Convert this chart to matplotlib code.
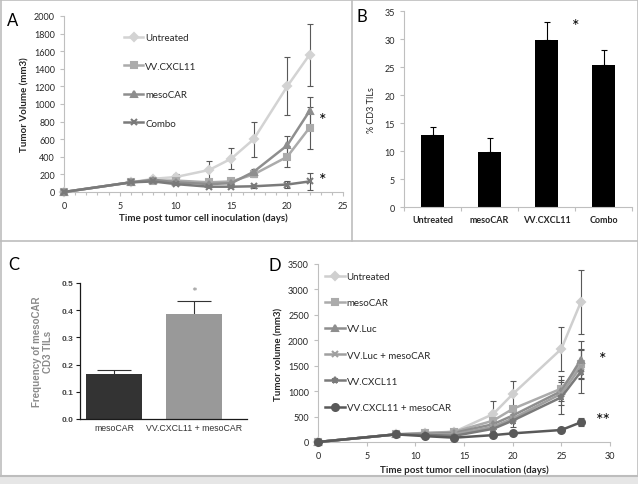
import matplotlib
matplotlib.use("Agg")
import matplotlib.pyplot as plt
from matplotlib.lines import Line2D
from matplotlib.ticker import MultipleLocator

W, H = 638, 485
plt.rcParams['font.family'] = ['Lato', 'DejaVu Sans']

# ---------------- Data ----------------
# Panel A
a_days = [0, 6, 8, 10, 13, 15, 17, 20, 22]
a_untreated = [0, 110, 150, 170, 250, 380, 600, 1200, 1560]
a_untreated_err = [0, 0, 0, 30, 100, 120, 200, 330, 350]
a_cxcl11 = [0, 110, 130, 130, 110, 120, 200, 400, 730]
a_cxcl11_err = [0, 0, 0, 0, 0, 0, 30, 120, 240]
a_mesocar = [0, 110, 140, 110, 90, 100, 230, 530, 920]
a_mesocar_err = [0, 0, 0, 0, 0, 0, 30, 110, 160]
a_combo = [0, 110, 120, 90, 60, 60, 65, 85, 120]
a_combo_err = [0, 0, 0, 0, 0, 0, 15, 45, 100]

# Panel B
b_groups = ["Untreated", "mesoCAR", "VV.CXCL11", "Combo"]
b_values = [12.8, 9.9, 29.8, 25.3]
b_err = [1.4, 2.4, 3.2, 2.8]

# Panel C
c_groups = ["mesoCAR", "VV.CXCL11 + mesoCAR"]
c_values = [0.167, 0.385]
c_err = [0.013, 0.047]

# Panel D
d_days = [0, 8, 11, 14, 18, 20, 25, 27]
d_untreated = [0, 150, 170, 200, 550, 940, 1830, 2750]
d_untreated_err = [0, 0, 0, 0, 250, 250, 440, 630]
d_mesocar = [0, 150, 180, 200, 420, 650, 1050, 1530]
d_mesocar_err = [0, 0, 0, 0, 0, 0, 250, 300]
d_vvluc = [0, 150, 160, 180, 350, 520, 1000, 1620]
d_vvluc_err = [0, 0, 0, 0, 0, 0, 0, 370]
d_vvluc_meso = [0, 150, 150, 150, 300, 460, 950, 1480]
d_vvluc_meso_err = [0, 0, 0, 0, 0, 0, 220, 0]
d_cxcl11 = [0, 150, 140, 120, 260, 420, 880, 1380]
d_cxcl11_err = [0, 0, 0, 0, 0, 130, 330, 420]
d_cxcl11_meso = [0, 150, 115, 85, 135, 170, 236, 387]
d_cxcl11_meso_err = [0, 0, 0, 0, 0, 0, 30, 80]

# ---------------- Figure ----------------
fig = plt.figure(figsize=(W / 100, H / 100), dpi=100)


def rect(l, t, r, b):
    return [l / W, 1 - b / H, (r - l) / W, (b - t) / H]


AXC = '#BFBFBF'
TXT = '#262626'


def excel_axes(ax):
    for s in ['top', 'right']:
        ax.spines[s].set_visible(False)
    for s in ['left', 'bottom']:
        ax.spines[s].set_color(AXC)
        ax.spines[s].set_linewidth(0.8)
    ax.tick_params(colors=AXC, labelcolor=TXT, labelsize=6.5, width=0.8, length=3)
    ax.tick_params(which='minor', colors=AXC, width=0.8, length=2)


def draw_series(ax, x, series):
    for name, vals, err, col, mk, ms in series:
        ax.errorbar(x, vals, yerr=err, fmt='none', ecolor='#595959', elinewidth=0.8,
                    capsize=2.5, capthick=0.8, zorder=2, clip_on=False)
        ax.plot(x, vals, color=col, lw=1.8, marker=mk, ms=ms, mew=1.5, label=name,
                clip_on=False, zorder=3)


# ---------- Panel A ----------
axA = fig.add_axes(rect(64, 17, 343, 193))
excel_axes(axA)
seriesA = [
    ("Untreated", a_untreated, a_untreated_err, '#D3D3D3', 'D', 4),
    ("VV.CXCL11", a_cxcl11, a_cxcl11_err, '#ABABAB', 's', 5),
    ("mesoCAR", a_mesocar, a_mesocar_err, '#8E8E8E', '^', 5),
    ("Combo", a_combo, a_combo_err, '#7A7A7A', 'x', 5),
]
draw_series(axA, a_days, seriesA)
axA.set_xlim(0, 25)
axA.set_ylim(0, 2000)
axA.xaxis.set_major_locator(MultipleLocator(5))
axA.xaxis.set_minor_locator(MultipleLocator(1))
axA.yaxis.set_major_locator(MultipleLocator(200))
axA.set_ylabel("Tumor Volume (mm3)", fontsize=7, fontweight='bold', color=TXT, labelpad=3)
axA.set_xlabel("Time post tumor cell inoculation (days)", fontsize=7, fontweight='bold',
               color=TXT, labelpad=2)
legA = axA.legend(loc='upper left', bbox_to_anchor=(0.215, 0.902), frameon=False,
                  fontsize=7, labelspacing=2.0, handlelength=2.0, handletextpad=0.2,
                  borderaxespad=0, borderpad=0)
for t in legA.get_texts():
    t.set_color(TXT)
fig.text(323 / W, 1 - 121 / H, "*", fontsize=13, ha='center', va='center', color='black')
fig.text(323 / W, 1 - 181 / H, "*", fontsize=13, ha='center', va='center', color='black')

# ---------- Panel B ----------
axB = fig.add_axes(rect(404, 12, 632, 208))
excel_axes(axB)
xb = list(range(len(b_groups)))
axB.bar(xb, b_values, width=0.4, color='black', zorder=2)
axB.errorbar(xb, b_values, yerr=[[0] * len(b_err), b_err], fmt='none', ecolor='black',
             elinewidth=0.8, capsize=2.5, capthick=0.8)
axB.set_xlim(-0.5, 3.5)
axB.set_ylim(0, 35)
axB.yaxis.set_major_locator(MultipleLocator(5))
axB.set_xticks([i + 0.5 for i in range(-1, 4)])
axB.set_xticklabels([])
axB.set_xticks(xb, minor=True)
axB.set_xticklabels(b_groups, minor=True, fontsize=6.5, fontweight='bold', color=TXT)
axB.tick_params(axis='x', which='minor', length=0, pad=6)
axB.set_ylabel("% CD3 TILs", fontsize=6.5, color=TXT, labelpad=6)
fig.text(576 / W, 1 - 27 / H, "*", fontsize=13, ha='center', va='center', color='black')

# ---------- Panel C ----------
axC = fig.add_axes(rect(80, 284, 247, 420))
for s in ['top', 'right']:
    axC.spines[s].set_visible(False)
for s in ['left', 'bottom']:
    axC.spines[s].set_color('#1a1a1a')
    axC.spines[s].set_linewidth(0.9)
xc = list(range(len(c_groups)))
axC.bar(xc, c_values, width=0.7, color=['#333333', '#999999'], zorder=2)
axC.errorbar(xc, c_values, yerr=c_err, fmt='none', ecolor='#333333', elinewidth=0.8,
             capsize=12, capthick=0.8, zorder=1)
axC.set_xlim(-0.425, 1.66)
axC.set_ylim(0, 0.5)
axC.set_yticks([0.0, 0.1, 0.2, 0.3, 0.4, 0.5])
axC.set_yticklabels(["0.0", "0.1", "0.2", "0.3", "0.4", "0.5"], fontsize=6,
                    fontweight='bold', color='#444444', family='Liberation Sans')
axC.set_xticks(xc)
axC.set_xticklabels(c_groups, fontsize=6.3, color='#333333', family='Liberation Sans')
axC.tick_params(axis='x', length=0, pad=3)
axC.tick_params(axis='y', length=3, width=0.8, color='#1a1a1a', pad=2)
axC.set_ylabel("Frequency of mesoCAR\nCD3 TILs", fontsize=7, fontweight='bold',
               color='#8a8a8a', family='Liberation Sans', labelpad=6, linespacing=1.1)
fig.text(194 / W, 1 - 293 / H, "*", fontsize=10, ha='center', va='center', color='#8a8a8a')

# ---------- Panel D ----------
axD = fig.add_axes(rect(318, 265, 610, 443))
excel_axes(axD)
seriesD = [
    ("Untreated", d_untreated, d_untreated_err, '#CFCFCF', 'D', 4),
    ("mesoCAR", d_mesocar, d_mesocar_err, '#ABABAB', 's', 5),
    ("VV.Luc", d_vvluc, d_vvluc_err, '#8E8E8E', '^', 5),
    ("VV.Luc + mesoCAR", d_vvluc_meso, d_vvluc_meso_err, '#A0A0A0', 'x', 5),
    ("VV.CXCL11", d_cxcl11, d_cxcl11_err, '#7A7A7A', '*', 5),
    ("VV.CXCL11 + mesoCAR", d_cxcl11_meso, d_cxcl11_meso_err, '#595959', 'o', 5),
]
draw_series(axD, d_days, seriesD)
axD.set_xlim(0, 30)
axD.set_ylim(0, 3500)
axD.xaxis.set_major_locator(MultipleLocator(5))
axD.yaxis.set_major_locator(MultipleLocator(500))
axD.set_ylabel("Tumor volume (mm3)", fontsize=7, fontweight='bold', color=TXT, labelpad=3)
axD.set_xlabel("Time post tumor cell inoculation (days)", fontsize=7, fontweight='bold',
               color=TXT, labelpad=3)
legD = axD.legend(loc='upper left', bbox_to_anchor=(0.025, 0.955), frameon=False,
                  fontsize=7, labelspacing=1.77, handlelength=2.0, handletextpad=0.2,
                  borderaxespad=0, borderpad=0)
for t in legD.get_texts():
    t.set_color(TXT)
fig.text(603 / W, 1 - 360 / H, "*", fontsize=13, ha='center', va='center', color='black')
fig.text(603 / W, 1 - 421 / H, "**", fontsize=13, ha='center', va='center', color='black')

# ---------- Panel labels ----------
fig.text(7 / W, 1 - 21 / H, "A", fontsize=12, ha='left', va='center', color='black')
fig.text(357 / W, 1 - 17 / H, "B", fontsize=12, ha='left', va='center', color='black')
fig.text(8 / W, 1 - 265 / H, "C", fontsize=12, ha='left', va='center', color='black')
fig.text(268 / W, 1 - 266 / H, "D", fontsize=12, ha='left', va='center', color='black')

# ---------- Panel frames ----------
FC = '#BDBDBD'


def fline(x0, y0, x1, y1, lw=1.2):
    fig.add_artist(Line2D([x0 / W, x1 / W], [1 - y0 / H, 1 - y1 / H], color=FC, lw=lw))


fline(0.5, 0.5, 637.5, 0.5)
fline(0.5, 0.5, 0.5, 477)
fline(637.5, 0.5, 637.5, 477)
fline(0, 242, 638, 242)
fline(352, 0, 352, 242)
fline(0, 477, 638, 477, lw=1.5)
fig.add_artist(plt.Rectangle((0, 0), 1, 1 - 477 / H, transform=fig.transFigure,
                             color='#E6E6E6', zorder=-1))

fig.savefig("out.png", dpi=100)
